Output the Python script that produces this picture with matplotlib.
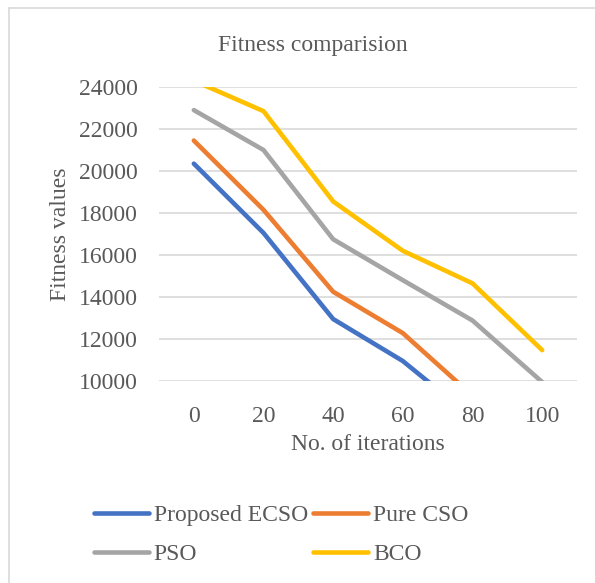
import matplotlib
matplotlib.use("Agg")
import matplotlib.pyplot as plt
from matplotlib.lines import Line2D

iterations = [0, 20, 40, 60, 80, 100]
ecso = [20350, 17050, 12950, 10950, 8250, 7000]
pure_cso = [21450, 18150, 14250, 12280, 9300, 8200]
pso = [22900, 21000, 16750, 14800, 12880, 9950]
bco = [24300, 22850, 18550, 16200, 14650, 11470]
y_ticks = [10000, 12000, 14000, 16000, 18000, 20000, 22000, 24000]

names = ["Proposed ECSO", "Pure CSO", "PSO", "BCO"]
colors = ["#4472C4", "#ED7D31", "#A5A5A5", "#FFC000"]
text_col = "#595959"

plt.rcParams['font.family'] = ['Liberation Serif', 'DejaVu Serif']
plt.rcParams['font.size'] = 17

fig = plt.figure(figsize=(5.95, 5.83), dpi=100)
ax = fig.add_axes([159/595, 1 - 381/583, (577 - 159)/595, (381 - 87)/583])

lines = []
for vals, name, c in zip([ecso, pure_cso, pso, bco], names, colors):
    ln, = ax.plot(iterations, vals, color=c, lw=3.3, label=name, solid_capstyle='round', zorder=3)
    lines.append(ln)

ax.set_xlim(-10, 110)
ax.set_ylim(10000, 24000)
ax.set_xticks(iterations)
ax.set_yticks(y_ticks)
ax.grid(axis='y', color='#D9D9D9', lw=1.2, zorder=0)
ax.tick_params(length=0, colors=text_col, labelsize=17)
ax.tick_params(axis='y', pad=15)
ax.tick_params(axis='x', pad=18)
for s in ax.spines.values():
    s.set_visible(False)

ax.set_xlabel("No. of iterations", color=text_col, fontsize=17, labelpad=5)
ax.set_ylabel("Fitness values", color=text_col, fontsize=17, labelpad=6)
fig.text(313/595, 1 - 46/583, "Fitness comparision", ha='center', va='center',
         color=text_col, fontsize=17)

# row-major legend order: ECSO, CSO / PSO, BCO
order = [0, 2, 1, 3]
leg = fig.legend([lines[i] for i in order], [names[i] for i in order],
                 loc='center', bbox_to_anchor=(281/595, 1 - 535/583), ncol=2,
                 frameon=False, handlelength=2.35, handletextpad=0.2,
                 columnspacing=0.2, labelspacing=0.75, fontsize=17)
for t in leg.get_texts():
    t.set_color(text_col)

# chart border
fig.add_artist(Line2D([9/595, 9/595], [0, 1 - 8/583], transform=fig.transFigure,
                      color='#D9D9D9', lw=1.2))
fig.add_artist(Line2D([9/595, 1], [1 - 8/583, 1 - 8/583], transform=fig.transFigure,
                      color='#D9D9D9', lw=1.2))

fig.savefig("out.png", dpi=100)
